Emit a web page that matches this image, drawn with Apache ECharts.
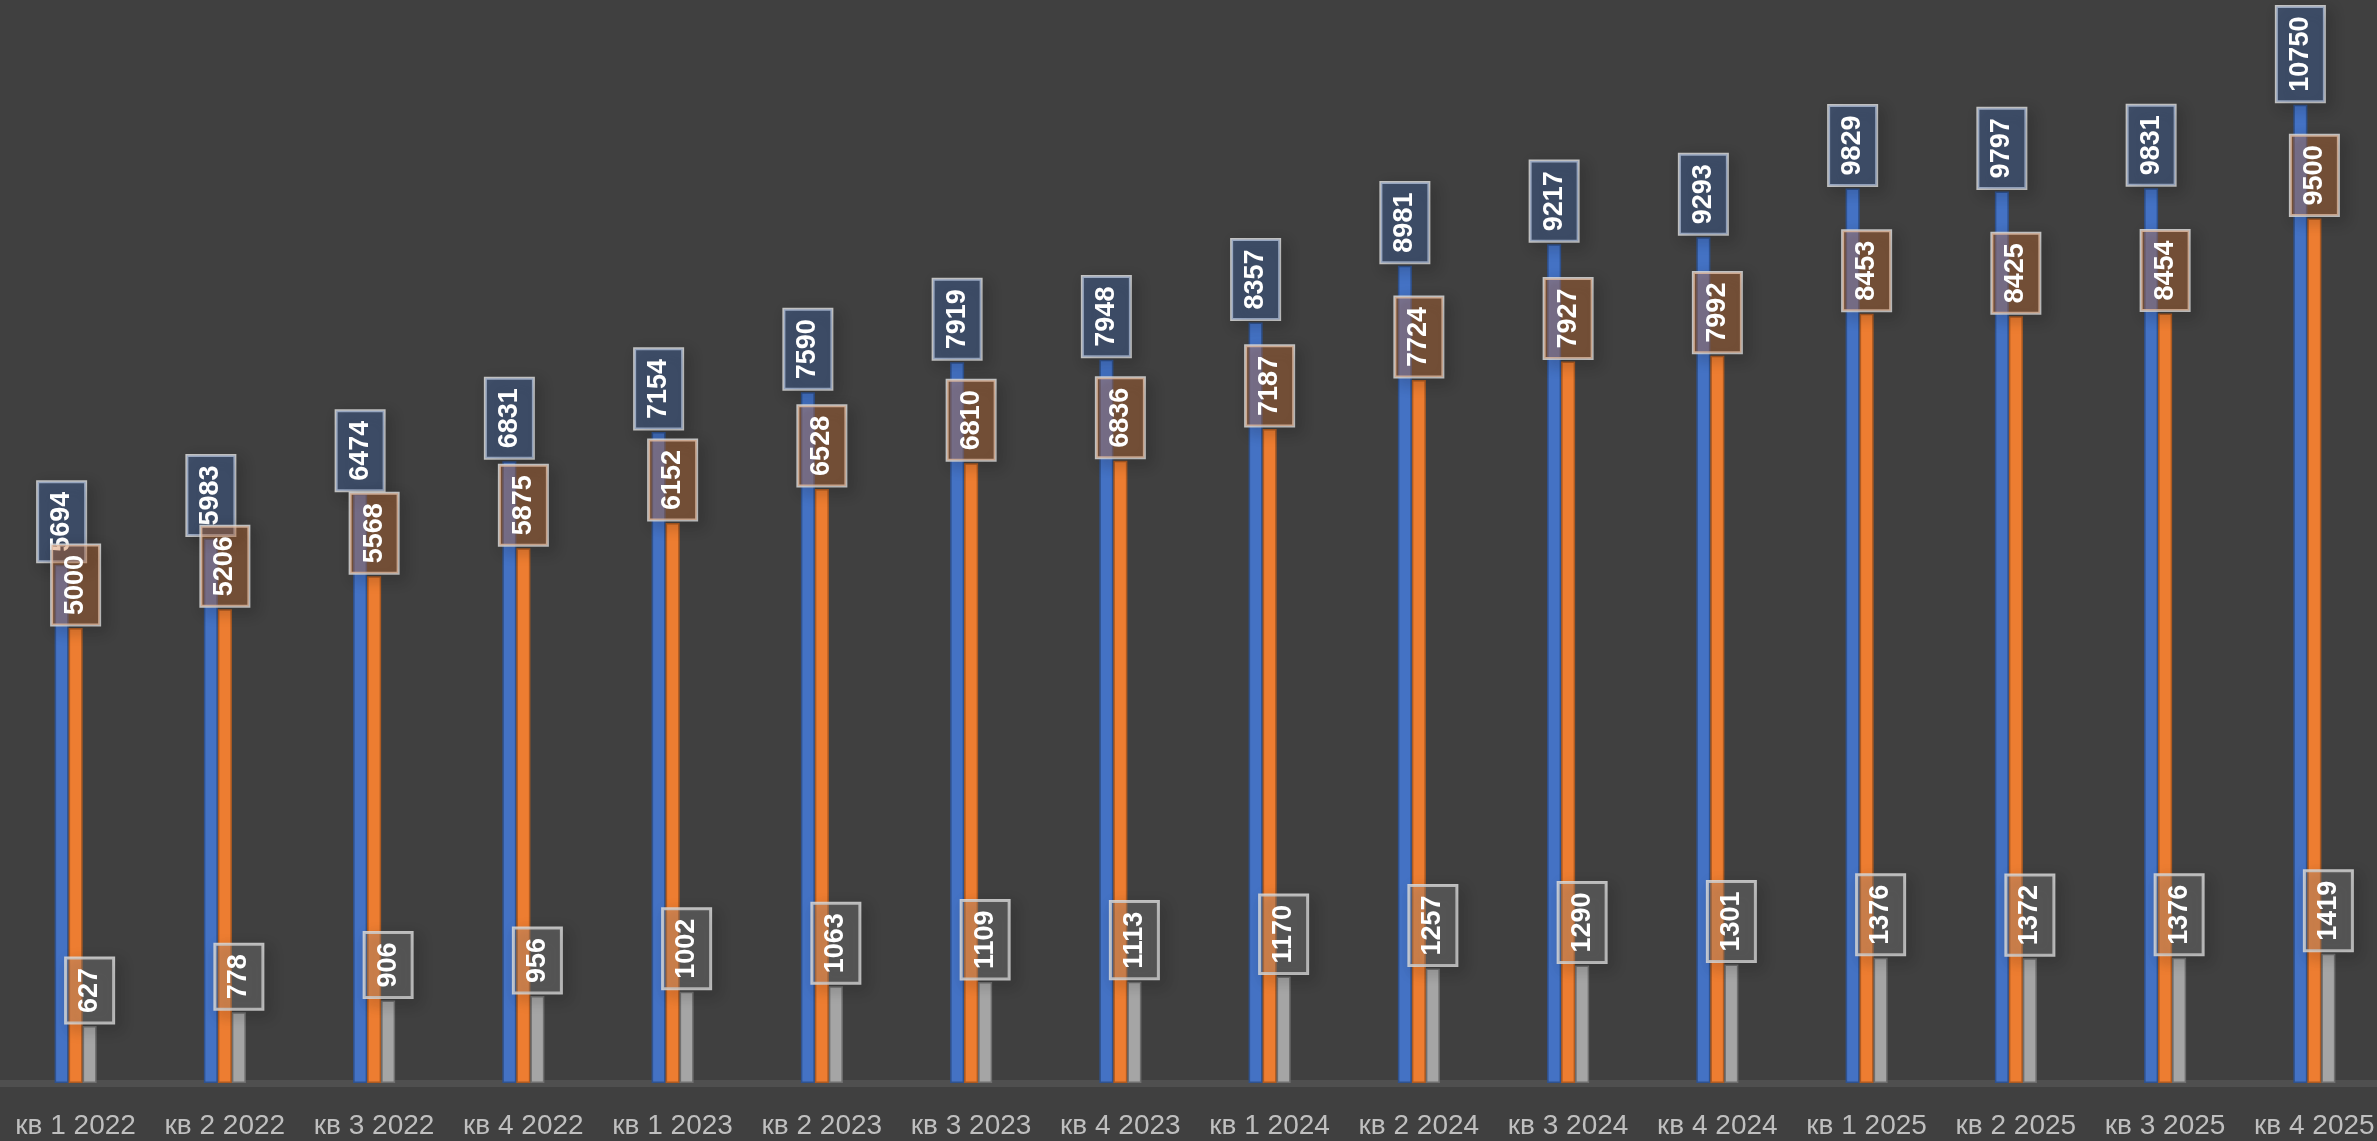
<!DOCTYPE html>
<html>
<head>
<meta charset="utf-8">
<script src="https://cdn.jsdelivr.net/npm/echarts@6/dist/echarts.min.js"></script>
<style>
  html, body { margin: 0; padding: 0; background: #404040; overflow: hidden; }
  #chart { width: 2389px; height: 1141px; }
</style>
</head>
<body>
<div id="chart"></div>
<script>
// Quarterly figures, 2022–2025
const quarters = [
  'кв 1 2022', 'кв 2 2022', 'кв 3 2022', 'кв 4 2022',
  'кв 1 2023', 'кв 2 2023', 'кв 3 2023', 'кв 4 2023',
  'кв 1 2024', 'кв 2 2024', 'кв 3 2024', 'кв 4 2024',
  'кв 1 2025', 'кв 2 2025', 'кв 3 2025', 'кв 4 2025'
];
const seriesBlue = [5694, 5983, 6474, 6831, 7154, 7590, 7919, 7948, 8357, 8981, 9217, 9293, 9829, 9797, 9831, 10750];
const seriesOrange = [5000, 5206, 5568, 5875, 6152, 6528, 6810, 6836, 7187, 7724, 7927, 7992, 8453, 8425, 8454, 9500];
const seriesGray = [627, 778, 906, 956, 1002, 1063, 1109, 1113, 1170, 1257, 1290, 1301, 1376, 1372, 1376, 1419];

const chart = echarts.init(document.getElementById('chart'));

function valueLabel(bg) {
  return {
    show: true,
    position: 'top',
    rotate: 90,
    align: 'left',
    verticalAlign: 'middle',
    distance: 3,
    color: '#ffffff',
    fontFamily: 'Liberation Sans',
    fontWeight: 'bold',
    fontSize: 27,
    lineHeight: 28,
    padding: [10, 10],
    backgroundColor: bg,
    borderColor: 'rgba(220,220,220,0.85)',
    borderWidth: 1.5,
    shadowColor: 'rgba(0,0,0,0.35)',
    shadowBlur: 14,
    shadowOffsetX: 5,
    shadowOffsetY: 5
  };
}

function barSeries(data, color, edge, labelBg) {
  return {
    type: 'bar',
    data: data,
    barWidth: 14,
    barGap: '0%',
    itemStyle: { color: color, borderColor: edge, borderWidth: 1.5 },
    label: valueLabel(labelBg)
  };
}

chart.setOption({
  backgroundColor: '#404040',
  animation: false,
  grid: { left: 1, right: 0, top: 0, bottom: 58, containLabel: false },
  xAxis: {
    type: 'category',
    data: quarters,
    axisTick: { show: false },
    axisLine: { show: true, lineStyle: { color: '#4f4f4f', width: 7 } },
    axisLabel: {
      color: '#bfbfbf',
      fontFamily: 'Liberation Sans',
      fontSize: 28,
      margin: 29,
      interval: 0
    }
  },
  yAxis: {
    type: 'value',
    min: 0,
    max: 11900,
    show: false,
    splitLine: { show: false }
  },
  series: [
    barSeries(seriesBlue, '#4472c4', '#2f528f', 'rgba(68,114,196,0.32)'),
    barSeries(seriesOrange, '#ed7d31', '#ae5a21', 'rgba(237,125,49,0.32)'),
    barSeries(seriesGray, '#a5a5a5', '#6f6f6f', 'rgba(165,165,165,0.25)')
  ]
});
</script>
</body>
</html>
